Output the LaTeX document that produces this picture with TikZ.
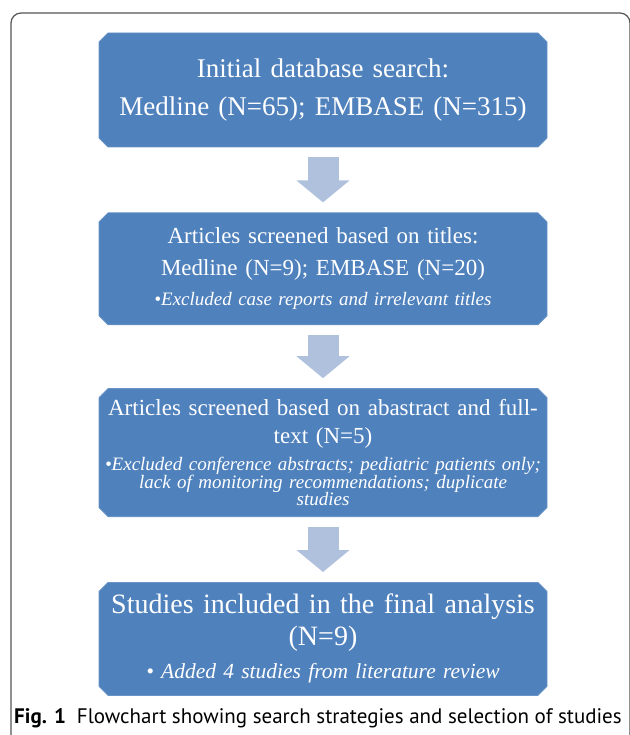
\documentclass[tikz,border=0pt]{standalone}
\usepackage{fontspec}
\setmainfont{Liberation Serif}[WordSpace=1.35]
\newfontfamily\capfont{PT Sans}
\usepackage{xcolor}
\usetikzlibrary{arrows.meta,positioning,shapes.misc}

\definecolor{boxblue}{RGB}{79,129,189}
\definecolor{arrowblue}{RGB}{176,193,222}
\definecolor{framegray}{RGB}{85,85,85}

\tikzset{
	stepbox/.style={chamfered rectangle, chamfered rectangle xsep=6pt, fill=boxblue, draw=boxblue!85!white,
		line width=0.8pt, text=white, text width=436pt, align=flush center, minimum width=444pt, inner sep=0pt},
	fatarrow/.style={draw=arrowblue, line width=31pt, -{Triangle[width=52pt,length=22pt]},
		shorten <=10pt, shorten >=10pt},
}

\begin{document}
\begin{tikzpicture}
	\useasboundingbox (0,0) rectangle (629pt,-735pt);
	% frame of the figure
	\draw[framegray, line width=1.2pt] (11pt,-745pt) -- (11pt,-23pt) arc[start angle=180, end angle=90, radius=10pt]
		-- (620pt,-13pt) arc[start angle=90, end angle=0, radius=10pt] -- (630pt,-745pt);

	\node[stepbox, minimum height=114pt] (initial) at (323pt,-90pt)
		{\fontsize{27}{38}\selectfont Initial database search:\\Medline (N=65); EMBASE (N=315)\par};
	\node[stepbox, minimum height=112pt, below=65pt of initial] (titles)
		{\fontsize{23}{32}\selectfont Articles screened based on titles:\\Medline (N=9); EMBASE (N=20)\par
		\fontsize{19}{30}\selectfont\itshape •Excluded case reports and irrelevant titles\par};
	\node[stepbox, minimum height=128pt, below=63pt of titles] (fulltext)
		{\fontsize{23}{28}\selectfont Articles screened based on abastract and full-\\text (N=5)\par
		\vspace{8.5pt}\fontsize{19}{17.5}\selectfont\itshape •Excluded conference abstracts; pediatric patients only;\\
		lack of monitoring recommendations; duplicate\\studies\par};
	\node[stepbox, minimum height=113pt, below=65pt of fulltext] (included)
		{\fontsize{28}{32}\selectfont Studies included in the final analysis\\(N=9)\par
		\fontsize{21.5}{33}\selectfont\itshape • Added 4 studies from literature review\par};

	\draw[fatarrow] (initial.south) -- (titles.north);
	\draw[fatarrow] (titles.south) -- (fulltext.north);
	\draw[fatarrow] (fulltext.south) -- (included.north);

	\node[anchor=west, inner sep=0pt, font=\capfont\fontsize{21}{24}\selectfont] (caption) at (14pt,-718pt)
		{\textbf{Fig. 1}\hspace{11pt}Flowchart showing search strategies and selection of studies};
\end{tikzpicture}
\end{document}
